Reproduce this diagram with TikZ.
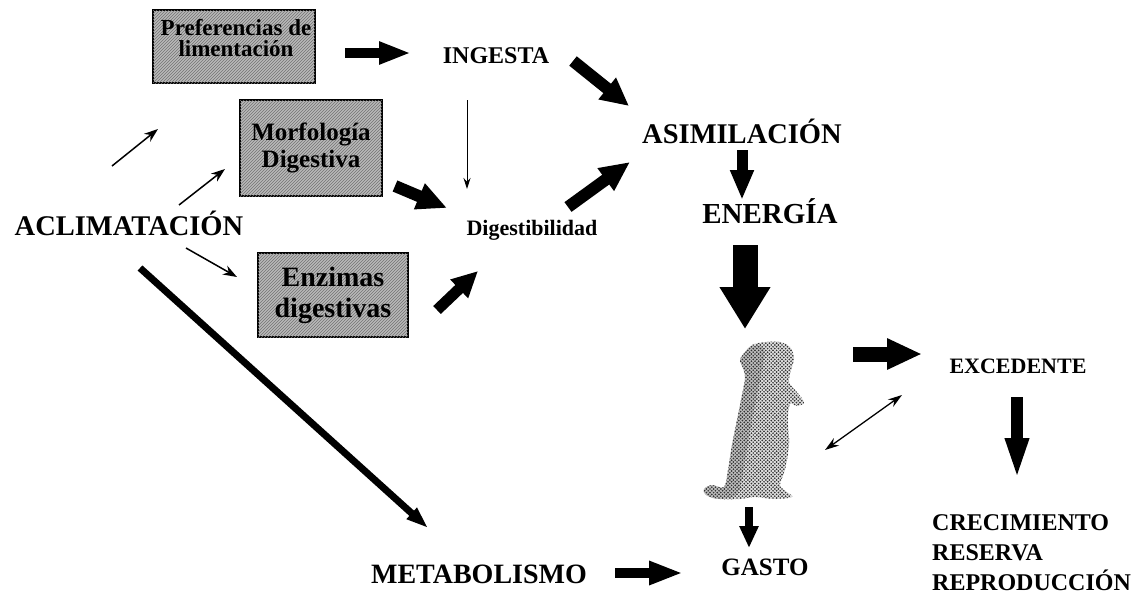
\documentclass[tikz,border=0pt]{standalone}
\usepackage{fontspec}
\setmainfont{Liberation Serif}
\usetikzlibrary{arrows.meta,patterns}
% coarse halftone dots for the rat figure
\pgfdeclarepatternformonly{ratdots}{\pgfqpoint{-1pt}{-1pt}}{\pgfqpoint{4.6pt}{4.6pt}}{\pgfqpoint{3.6pt}{3.6pt}}{
  \pgfpathcircle{\pgfqpoint{0.8pt}{0.8pt}}{0.95pt}
  \pgfpathcircle{\pgfqpoint{2.6pt}{2.6pt}}{0.95pt}
  \pgfusepath{fill}}
\begin{document}
\begin{tikzpicture}[x=1pt,y=-1pt,
  lbl/.style={font=\bfseries\fontsize{#1}{#1}\selectfont, inner sep=0pt, anchor=base},
  hatchbox/.style={draw=black, line width=1.3pt, fill=gray!55,
    postaction={pattern=north east lines, pattern color=black!55}, inner sep=0pt},
  boxtext/.style n args={2}{font=\bfseries\fontsize{#1}{#2}\selectfont, align=center, inner sep=0pt},
  fat/.style n args={3}{line width=#1, -{Triangle[width=#2,length=#3]}},
  thinarrow/.style={line width=1.5pt, -{Stealth[length=14pt,width=10pt]}},
]
\useasboundingbox (0,0) rectangle (1137,605);

% shaded factor boxes
\node[hatchbox, minimum width=162pt, minimum height=73pt] (pref) at (234,46.5) {};
\node[boxtext={23pt}{21pt}] (preftxt) at (236,38) {Preferencias de\\limentación};
\node[hatchbox, minimum width=142pt, minimum height=96pt, boxtext={25pt}{27pt}] (morf) at (311,148) {Morfología\\Digestiva};
\node[hatchbox, minimum width=150pt, minimum height=84pt, boxtext={28pt}{31pt}] (enz) at (333,295) {Enzimas\\digestivas};

% labels
\node[lbl=28.5pt] (acl) at (129,235) {ACLIMATACIÓN};
\node[lbl=24pt] (ing) at (496,63) {INGESTA};
\node[lbl=22pt] (dig) at (532,235) {Digestibilidad};
\node[lbl=28.5pt] (asim) at (742,143) {ASIMILACIÓN};
\node[lbl=29pt] (ener) at (770,223) {ENERGÍA};
\node[lbl=22pt] (exc) at (1018,373) {EXCEDENTE};
\node[lbl=28pt] (met) at (479,583) {METABOLISMO};
\node[lbl=25pt] (gas) at (765,575) {GASTO};
\node[anchor=north west, align=left, inner sep=0pt, font=\bfseries\fontsize{24pt}{30pt}\selectfont] (crec) at (932,514)
  {CRECIMIENTO\\RESERVA\\REPRODUCCIÓN};

% the standing rat
\coordinate (rat) at (752,420);
\def\ratoutline{plot[smooth cycle, tension=0.55] coordinates {
  (745,352) (752,345) (765,342) (780,342) (790,347) (794,358) (791,370)
  (789,382) (795,390) (801,397) (804,403) (797,406) (790,404) (788,420)
  (789,445) (785,470) (780,485) (787,492) (792,497) (775,499) (755,497)
  (740,499) (720,499) (706,495) (704,489) (712,485) (724,487) (728,470)
  (732,445) (738,415) (742,395) (745,378) (743,368) (740,360)}}
\fill[gray!22] \ratoutline;
\fill[gray!55, opacity=0.8] plot[smooth cycle, tension=0.6] coordinates {
  (745,352) (752,346) (764,350) (760,380) (752,420) (745,460) (738,492)
  (720,499) (706,495) (704,489) (712,485) (724,487) (728,470) (732,445)
  (738,415) (742,395) (745,378) (743,368) (740,360)};
\fill[pattern=ratdots, pattern color=black!80] \ratoutline;

% arrow end points
\coordinate (a1s) at (345,53);  \coordinate (a1e) at (411,53);
\coordinate (a2s) at (573,61);  \coordinate (a2e) at (629,106);
\coordinate (a3s) at (395,186); \coordinate (a3e) at (447,208);
\coordinate (a4s) at (568,207); \coordinate (a4e) at (630,162);
\coordinate (a5s) at (437,310); \coordinate (a5e) at (478,271);
\coordinate (a6s) at (742,150); \coordinate (a6e) at (742,200);
\coordinate (a7s) at (745,245); \coordinate (a7e) at (745,329);
\coordinate (a8s) at (853,354); \coordinate (a8e) at (922,354);
\coordinate (a9s) at (1017,397); \coordinate (a9e) at (1017,481);
\coordinate (a10s) at (749,507); \coordinate (a10e) at (749,548);
\coordinate (a11s) at (615,573); \coordinate (a11e) at (683,573);
\coordinate (t1s) at (112,166); \coordinate (t1e) at (158,129);
\coordinate (t2s) at (179,205); \coordinate (t2e) at (225,169);
\coordinate (t3s) at (186,248); \coordinate (t3e) at (237,277);
\coordinate (vs) at (467,100);  \coordinate (ve) at (467,189);
\coordinate (ds) at (140,268);  \coordinate (de) at (428,528);
\coordinate (bs) at (825,450);  \coordinate (be) at (902,395);

% heavy block arrows
\draw[fat={10pt}{21pt}{32pt}] (a1s) -- (a1e);
\draw[fat={12pt}{26pt}{28pt}] (a2s) -- (a2e);
\draw[fat={12pt}{26pt}{30pt}] (a3s) -- (a3e);
\draw[fat={12pt}{26pt}{30pt}] (a4s) -- (a4e);
\draw[fat={11pt}{24pt}{26pt}] (a5s) -- (a5e);
\draw[fat={11pt}{22pt}{30pt}] (a6s) -- (a6e);
\draw[fat={25pt}{48pt}{42pt}] (a7s) -- (a7e);
\draw[fat={15pt}{29pt}{35pt}] (a8s) -- (a8e);
\draw[fat={12pt}{21pt}{43pt}] (a9s) -- (a9e);
\draw[fat={8pt}{18pt}{22pt}] (a10s) -- (a10e);
\draw[fat={10pt}{22pt}{34pt}] (a11s) -- (a11e);

% thin arrows
\draw[thinarrow] (t1s) -- (t1e);
\draw[thinarrow] (t2s) -- (t2e);
\draw[thinarrow] (t3s) -- (t3e);
\draw[line width=1pt, -{Stealth[length=11pt,width=7pt]}] (vs) -- (ve);
\draw[line width=1.3pt, {Stealth[length=14pt,width=9pt]}-{Stealth[length=14pt,width=9pt]}] (bs) -- (be);

% long diagonal to metabolism
\draw[line width=7pt, -{Triangle[length=22pt,width=14pt]}] (ds) -- (de);
\end{tikzpicture}
\end{document}
